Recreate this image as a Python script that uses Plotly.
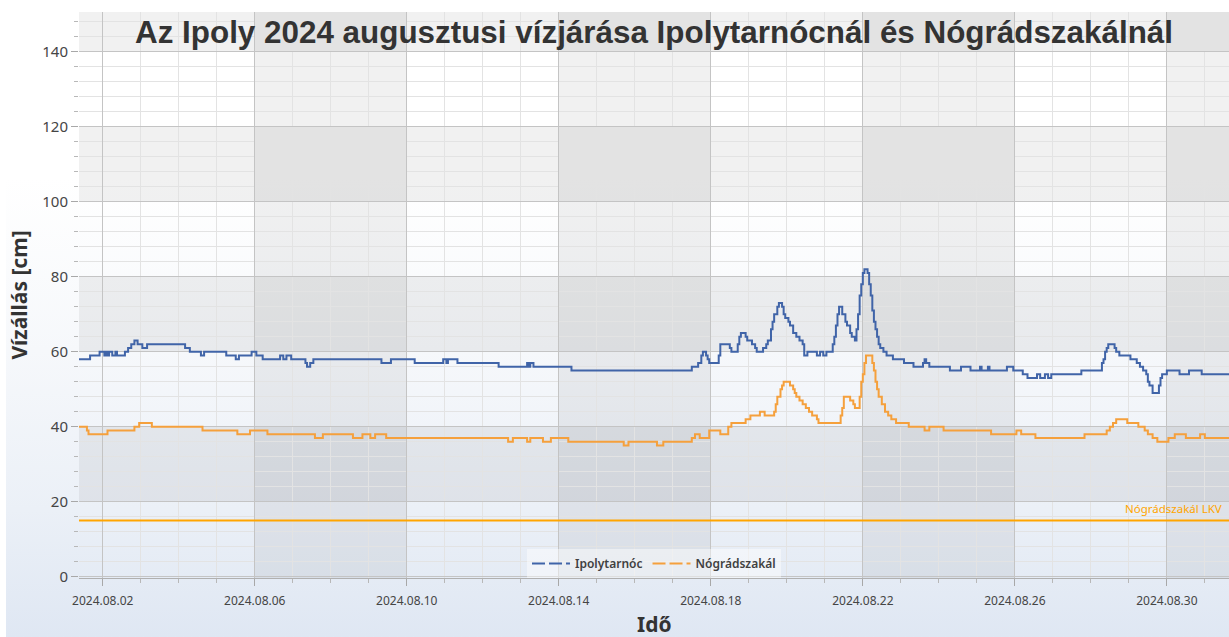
import base64
import pandas as pd
import plotly.graph_objects as go

# ---------------- data ----------------
TITLE = "Az Ipoly 2024 augusztusi vízjárása Ipolytarnócnál és Nógrádszakálnál"
Y_TITLE = "Vízállás [cm]"
X_TITLE = "Idő"
series_names = ["Ipolytarnóc", "Nógrádszakál"]
lkv_label = "Nógrádszakál LKV"
lkv_level = 15

ipoly_time = [
    "2024-08-01 09:00", "2024-08-01 16:00", "2024-08-01 22:00", "2024-08-02 01:00", "2024-08-02 02:00",
    "2024-08-02 03:00", "2024-08-02 04:00", "2024-08-02 06:00", "2024-08-02 08:00", "2024-08-02 09:00",
    "2024-08-02 14:00", "2024-08-02 16:00", "2024-08-02 18:00", "2024-08-02 20:00", "2024-08-02 22:00",
    "2024-08-03 01:00", "2024-08-03 04:00", "2024-08-04 04:00", "2024-08-04 07:00", "2024-08-04 14:00",
    "2024-08-04 16:00", "2024-08-05 06:00", "2024-08-05 12:00", "2024-08-05 14:00", "2024-08-05 22:00",
    "2024-08-06 01:00", "2024-08-06 05:00", "2024-08-06 16:00", "2024-08-06 18:00", "2024-08-06 20:00",
    "2024-08-06 23:00", "2024-08-07 08:00", "2024-08-07 09:00", "2024-08-07 11:00", "2024-08-07 13:00",
    "2024-08-09 08:00", "2024-08-09 14:00", "2024-08-10 05:00", "2024-08-10 23:00", "2024-08-11 01:00",
    "2024-08-11 02:00", "2024-08-11 08:00", "2024-08-12 10:00", "2024-08-13 04:00", "2024-08-13 05:00",
    "2024-08-13 06:00", "2024-08-13 08:00", "2024-08-14 08:00", "2024-08-17 12:00", "2024-08-17 16:00",
    "2024-08-17 18:00", "2024-08-17 19:00", "2024-08-17 21:00", "2024-08-17 22:00", "2024-08-17 23:00",
    "2024-08-18 05:00", "2024-08-18 06:00", "2024-08-18 12:00", "2024-08-18 13:00", "2024-08-18 17:00",
    "2024-08-18 18:00", "2024-08-18 19:00", "2024-08-18 22:00", "2024-08-18 23:00", "2024-08-19 02:00",
    "2024-08-19 04:00", "2024-08-19 05:00", "2024-08-19 09:00", "2024-08-19 11:00", "2024-08-19 12:00",
    "2024-08-19 14:00", "2024-08-19 15:00", "2024-08-19 16:00", "2024-08-19 18:00", "2024-08-19 19:00",
    "2024-08-19 21:00", "2024-08-19 22:00", "2024-08-19 23:00", "2024-08-20 01:00", "2024-08-20 02:00",
    "2024-08-20 04:00", "2024-08-20 06:00", "2024-08-20 08:00", "2024-08-20 10:00", "2024-08-20 11:00",
    "2024-08-20 13:00", "2024-08-20 19:00", "2024-08-20 21:00", "2024-08-20 23:00", "2024-08-21 01:00",
    "2024-08-21 05:00", "2024-08-21 06:00", "2024-08-21 07:00", "2024-08-21 08:00", "2024-08-21 09:00",
    "2024-08-21 11:00", "2024-08-21 13:00", "2024-08-21 14:00", "2024-08-21 16:00", "2024-08-21 17:00",
    "2024-08-21 19:00", "2024-08-21 20:00", "2024-08-21 21:00", "2024-08-21 22:00", "2024-08-21 23:00",
    "2024-08-22 00:00", "2024-08-22 01:00", "2024-08-22 03:00", "2024-08-22 04:00", "2024-08-22 05:00",
    "2024-08-22 06:00", "2024-08-22 07:00", "2024-08-22 08:00", "2024-08-22 09:00", "2024-08-22 10:00",
    "2024-08-22 11:00", "2024-08-22 13:00", "2024-08-22 15:00", "2024-08-22 19:00", "2024-08-23 02:00",
    "2024-08-23 08:00", "2024-08-23 14:00", "2024-08-23 15:00", "2024-08-23 16:00", "2024-08-23 18:00",
    "2024-08-24 07:00", "2024-08-24 14:00", "2024-08-24 20:00", "2024-08-25 02:00", "2024-08-25 03:00",
    "2024-08-25 07:00", "2024-08-25 08:00", "2024-08-25 19:00", "2024-08-25 23:00", "2024-08-26 05:00",
    "2024-08-26 08:00", "2024-08-26 14:00", "2024-08-26 16:00", "2024-08-26 19:00", "2024-08-26 21:00",
    "2024-08-26 23:00", "2024-08-27 18:00", "2024-08-28 07:00", "2024-08-28 08:00", "2024-08-28 09:00",
    "2024-08-28 10:00", "2024-08-28 11:00", "2024-08-28 15:00", "2024-08-28 16:00", "2024-08-28 18:00",
    "2024-08-29 01:00", "2024-08-29 05:00", "2024-08-29 07:00", "2024-08-29 09:00", "2024-08-29 11:00",
    "2024-08-29 12:00", "2024-08-29 13:00", "2024-08-29 15:00", "2024-08-29 19:00", "2024-08-29 20:00",
    "2024-08-29 21:00", "2024-08-30 00:00", "2024-08-30 08:00", "2024-08-30 14:00", "2024-08-30 22:00",
    "2024-08-31 15:15",
]
ipoly_level = [
    58, 59, 60, 59, 60,
    59, 60, 59, 60, 59,
    60, 61, 62, 63, 62,
    61, 62, 61, 60, 59,
    60, 59, 58, 59, 60,
    59, 58, 59, 58, 59,
    58, 57, 56, 57, 58,
    57, 58, 57, 58, 57,
    58, 57, 56, 57, 56,
    57, 56, 55, 56, 57,
    59, 60, 59, 58, 57,
    59, 62, 61, 60, 62,
    64, 65, 64, 63, 62,
    61, 60, 61, 62, 63,
    66, 68, 70, 72, 73,
    72, 70, 69, 68, 67,
    65, 64, 63, 62, 59,
    60, 59, 60, 59, 60,
    62, 64, 67, 70, 72,
    70, 68, 67, 65, 64,
    63, 66, 70, 75, 78,
    81, 82, 81, 78, 75,
    71, 68, 66, 64, 62,
    61, 60, 59, 58, 57,
    56, 57, 58, 57, 56,
    55, 56, 55, 56, 55,
    56, 55, 56, 55, 54,
    53, 54, 53, 54, 53,
    54, 55, 57, 58, 60,
    61, 62, 61, 60, 59,
    58, 57, 56, 55, 54,
    52, 51, 49, 51, 53,
    54, 55, 54, 55, 54,
    54,
]

nograd_time = [
    "2024-08-01 09:00", "2024-08-01 14:00", "2024-08-01 15:00", "2024-08-02 03:00", "2024-08-02 20:00",
    "2024-08-02 23:00", "2024-08-03 07:00", "2024-08-04 15:00", "2024-08-05 13:00", "2024-08-05 21:00",
    "2024-08-06 08:00", "2024-08-07 14:00", "2024-08-07 19:00", "2024-08-08 14:00", "2024-08-08 20:00",
    "2024-08-09 01:00", "2024-08-09 04:00", "2024-08-09 11:00", "2024-08-12 16:00", "2024-08-12 19:00",
    "2024-08-13 04:00", "2024-08-13 06:00", "2024-08-13 14:00", "2024-08-13 19:00", "2024-08-14 06:00",
    "2024-08-15 17:00", "2024-08-15 20:00", "2024-08-16 14:00", "2024-08-16 18:00", "2024-08-17 12:00",
    "2024-08-17 14:00", "2024-08-17 17:00", "2024-08-17 23:00", "2024-08-18 06:00", "2024-08-18 11:00",
    "2024-08-18 13:00", "2024-08-18 22:00", "2024-08-19 01:00", "2024-08-19 07:00", "2024-08-19 10:00",
    "2024-08-19 16:00", "2024-08-19 17:00", "2024-08-19 18:00", "2024-08-19 20:00", "2024-08-19 21:00",
    "2024-08-19 22:00", "2024-08-20 02:00", "2024-08-20 04:00", "2024-08-20 05:00", "2024-08-20 06:00",
    "2024-08-20 08:00", "2024-08-20 10:00", "2024-08-20 12:00", "2024-08-20 14:00", "2024-08-20 16:00",
    "2024-08-20 19:00", "2024-08-20 20:00", "2024-08-21 10:00", "2024-08-21 11:00", "2024-08-21 12:00",
    "2024-08-21 16:00", "2024-08-21 18:00", "2024-08-21 19:00", "2024-08-21 22:00", "2024-08-21 23:00",
    "2024-08-22 00:00", "2024-08-22 01:00", "2024-08-22 02:00", "2024-08-22 06:00", "2024-08-22 07:00",
    "2024-08-22 08:00", "2024-08-22 09:00", "2024-08-22 10:00", "2024-08-22 12:00", "2024-08-22 14:00",
    "2024-08-22 16:00", "2024-08-22 18:00", "2024-08-22 21:00", "2024-08-23 05:00", "2024-08-23 15:00",
    "2024-08-23 18:00", "2024-08-24 03:00", "2024-08-25 09:00", "2024-08-26 01:00", "2024-08-26 04:00",
    "2024-08-26 13:00", "2024-08-27 20:00", "2024-08-28 10:00", "2024-08-28 12:00", "2024-08-28 14:00",
    "2024-08-28 16:00", "2024-08-28 23:00", "2024-08-29 06:00", "2024-08-29 10:00", "2024-08-29 12:00",
    "2024-08-29 15:00", "2024-08-29 18:00", "2024-08-30 01:00", "2024-08-30 05:00", "2024-08-30 12:00",
    "2024-08-30 21:00", "2024-08-31 00:00", "2024-08-31 15:15",
]
nograd_level = [
    40, 39, 38, 39, 40,
    41, 40, 39, 38, 39,
    38, 37, 38, 37, 38,
    37, 38, 37, 36, 37,
    36, 37, 36, 37, 36,
    35, 36, 35, 36, 37,
    38, 37, 39, 38, 40,
    41, 42, 43, 44, 43,
    44, 46, 48, 50, 51,
    52, 51, 50, 49, 48,
    47, 46, 45, 44, 43,
    42, 41, 43, 45, 48,
    47, 46, 45, 48, 52,
    54, 57, 59, 57, 55,
    52, 50, 48, 46, 44,
    43, 42, 41, 40, 39,
    40, 39, 38, 39, 38,
    37, 38, 39, 40, 41,
    42, 41, 40, 39, 38,
    37, 36, 37, 38, 37,
    38, 37, 37,
]

x_range = ["2024-08-01 09:00", "2024-08-31 15:15"]
y_range = [-0.3, 150.6]

# ---------------- styling ----------------
W, H = 1229, 637
M_L, M_R, M_T, M_B = 79, 0, 12, 59
PLOT_W = W - M_L - M_R
PLOT_H = H - M_T - M_B
BLUE = "#4064a8"
ORANGE = "#f5a03c"
LKV_COLOR = "#ffa500"
FONT = "Noto Sans"
DAY_MS = 86400000

# background gradient (page + plot area), as an inline SVG image
stops = [(0.0, "#ffffff"), (0.28, "#ffffff"), (0.55, "#f6f8fb"), (0.8, "#ebf0f7"), (1.0, "#dfe7f3")]
stop_xml = "".join(f'<stop offset="{o}" stop-color="{c}"/>' for o, c in stops)
svg = ('<svg xmlns="http://www.w3.org/2000/svg" width="10" height="100" viewBox="0 0 10 100" '
       'preserveAspectRatio="none"><defs><linearGradient id="g" x1="0" y1="0" x2="0" y2="1">'
       f'{stop_xml}</linearGradient></defs><rect width="10" height="100" fill="url(#g)"/></svg>')
bg_src = "data:image/svg+xml;base64," + base64.b64encode(svg.encode()).decode()
left_px = 6
images = [dict(
    source=bg_src, xref="paper", yref="paper",
    x=(left_px - M_L) / PLOT_W, y=(PLOT_H + M_T) / PLOT_H,
    sizex=(W - left_px) / PLOT_W, sizey=H / PLOT_H,
    xanchor="left", yanchor="top", sizing="stretch", layer="below",
)]

# checkerboard shading: alternating 4-day columns and 20-cm rows
shade = "rgba(0,0,0,0.056)"
shapes = []
col_start = pd.Timestamp("2024-07-29")
end = pd.Timestamp(x_range[1])
while col_start < end:
    shapes.append(dict(type="rect", xref="x", yref="y", x0=col_start, x1=col_start + pd.Timedelta(days=4),
                       y0=-50, y1=250, fillcolor=shade, line=dict(width=0), layer="below"))
    col_start += pd.Timedelta(days=8)
for r0 in range(20, 160, 40):
    shapes.append(dict(type="rect", xref="x", yref="y", x0="2024-07-20", x1="2024-09-10",
                       y0=r0, y1=r0 + 20, fillcolor=shade, line=dict(width=0), layer="below"))

fig = go.Figure()
fig.add_trace(go.Scatter(x=pd.to_datetime(ipoly_time), y=ipoly_level, mode="lines", line_shape="hv",
                         line=dict(color=BLUE, width=2), name=series_names[0], showlegend=False))
fig.add_trace(go.Scatter(x=pd.to_datetime(nograd_time), y=nograd_level, mode="lines", line_shape="hv",
                         line=dict(color=ORANGE, width=2), name=series_names[1], showlegend=False))
# legend entries
for nm, col in zip(series_names, [BLUE, ORANGE]):
    fig.add_trace(go.Scatter(x=[None], y=[None], mode="lines", name=nm,
                             line=dict(color=col, width=2, dash="13px,4px")))

fig.add_hline(y=lkv_level, line=dict(color=LKV_COLOR, width=2), layer="above")
fig.add_annotation(text=lkv_label, xref="x domain", yref="y", x=1, y=lkv_level, xanchor="right",
                   yanchor="bottom", xshift=-5, yshift=3, showarrow=False,
                   font=dict(family=FONT, size=11.5, color=LKV_COLOR))

axis_title_font = dict(family=FONT, size=21, color="#333333", weight="bold")
tick_font = dict(family=FONT, size=12, color="#454545")

# x-axis title as an annotation placed low near the page edge, fully visible
fig.add_annotation(text=X_TITLE, xref="paper", yref="paper", x=0.5, y=-(608 - (M_T + PLOT_H)) / PLOT_H,
                   xanchor="center", yanchor="top", showarrow=False, font=axis_title_font)

fig.update_layout(
    width=W, height=H, autosize=False,
    margin=dict(l=M_L, r=M_R, t=M_T, b=M_B, pad=0),
    paper_bgcolor="#ffffff", plot_bgcolor="rgba(0,0,0,0)",
    images=images, shapes=shapes,
    title=dict(text=TITLE, x=0.5, xref="paper", xanchor="center", y=1 - 32 / H, yref="container",
               yanchor="middle", font=dict(family="Liberation Sans", size=31.4, color="#333333", weight="bold")),
    legend=dict(orientation="h", x=0.5, xanchor="center", y=0, yanchor="bottom",
                bgcolor="rgba(255,255,255,0.45)", borderwidth=0,
                font=dict(family=FONT, size=12, color="#404040", weight=600), itemwidth=38),
    xaxis=dict(
        type="date", range=x_range, tick0="2024-08-02", dtick=4 * DAY_MS, tickformat="%Y.%m.%d",
        ticks="outside", ticklen=7, tickcolor="#a8a8a8", tickfont=tick_font, ticklabelstandoff=5,
        showgrid=True, gridcolor="#c4c4c4", gridwidth=1, zeroline=False, automargin=False,
        showline=True, linecolor="#b0b0b0", linewidth=1,
        minor=dict(tick0="2024-08-02", dtick=DAY_MS, ticks="outside", ticklen=4, tickcolor="#b8b8b8",
                   showgrid=True, gridcolor="#e3e3e3", gridwidth=1),
    ),
    yaxis=dict(
        range=y_range, tick0=0, dtick=20, ticks="outside", ticklen=7, tickcolor="#a8a8a8",
        tickfont=dict(family=FONT, size=15, color="#454545"), automargin=False,
        showgrid=True, gridcolor="#c4c4c4", gridwidth=1, zeroline=False, showline=False,
        minor=dict(tick0=0, dtick=4, ticks="outside", ticklen=4, tickcolor="#b8b8b8",
                   showgrid=True, gridcolor="#e3e3e3", gridwidth=1),
        title=dict(text=Y_TITLE, font=axis_title_font, standoff=8),
    ),
)

fig.write_html("out.html", config={"displayModeBar": False},
               post_script="document.body.style.margin='0';document.body.style.overflow='hidden';")
